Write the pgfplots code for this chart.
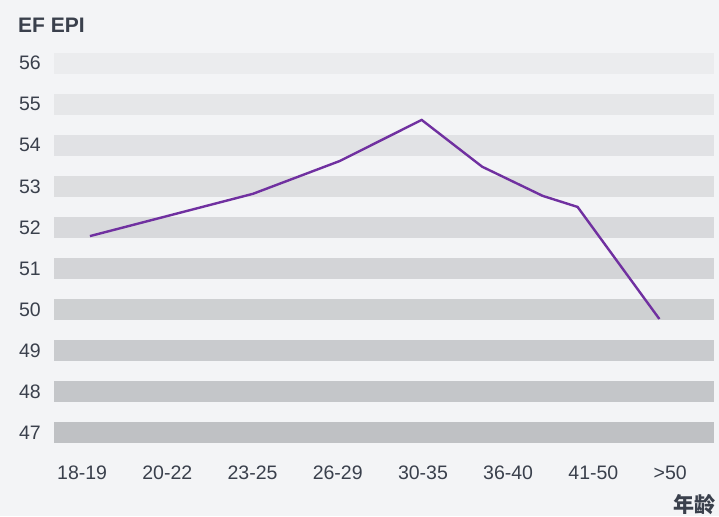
\documentclass[border=0pt]{standalone}
\usepackage{fontspec}
\setmainfont{Liberation Sans}
\newfontfamily\cjk{Noto Sans CJK SC}
\usepackage{pgfplots}
\pgfplotsset{compat=1.18}
\definecolor{bgc}{HTML}{F3F4F6}
\definecolor{bandtop}{HTML}{EBECEE}
\definecolor{bandbot}{HTML}{BFC1C4}
\definecolor{txt}{HTML}{3A404C}
\definecolor{linec}{HTML}{7030A0}
\begin{document}
\begin{tikzpicture}[x=1pt,y=1pt]
\fill[bgc] (0,0) rectangle (719,516);
\node[anchor=base west, inner sep=0pt, text=txt, font=\bfseries\fontsize{21}{21}\selectfont] at (18,483) {EF EPI};
\node[inner sep=0pt, text=txt, font=\cjk\bfseries\fontsize{21}{21}\selectfont] at (694,11) {年龄};
\begin{axis}[
    at={(54pt,73pt)}, anchor=south west,
    scale only axis, width=660pt, height=390pt,
    xmin=-0.035, xmax=7.711, ymin=46.75, ymax=56.25,
    axis line style={draw=none}, tick style={draw=none},
    major tick length=0pt,
    xtick={0,...,7},
    xticklabels={18-19,20-22,23-25,26-29,30-35,36-40,41-50,{>50}},
    ytick={47,...,56},
    ticklabel style={font=\fontsize{19.5}{19.5}\selectfont, text=txt},
    /pgf/number format/assume math mode=true,
    yticklabel style={anchor=east, inner sep=0pt, xshift=-13pt},
    xticklabel style={anchor=base west, inner sep=0pt, yshift=-36pt},
]
    % horizontal bands, darker towards the bottom
    \pgfplotsinvokeforeach{47,...,56}{
        \pgfmathtruncatemacro\pct{(56-#1)*100/9}
        \edef\tmp{\noexpand\fill[bandbot!\pct!bandtop] (axis cs:-0.035,#1-0.256) rectangle (axis cs:7.711,#1+0.256);}
        \tmp
    }
    \addplot[linec, line width=2.4pt, mark=none] coordinates {
        (0.387,51.79) (2.30,52.82) (3.32,53.62) (4.28,54.62)
        (4.99,53.48) (5.70,52.77) (6.11,52.50) (7.07,49.77)
    };
\end{axis}
\end{tikzpicture}
\end{document}
